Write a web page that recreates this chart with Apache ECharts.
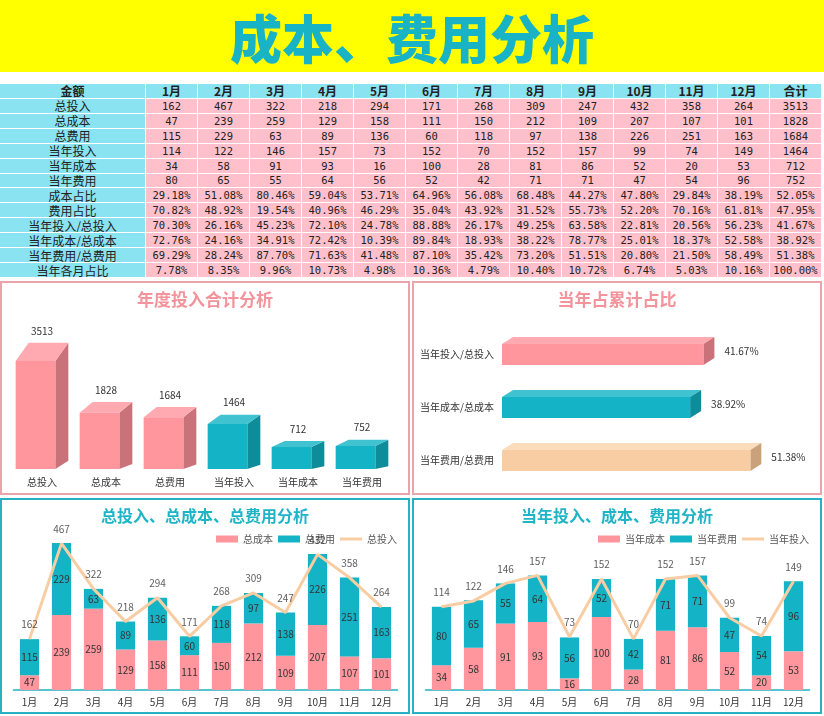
<!DOCTYPE html>
<html>
<head>
<meta charset="utf-8">
<title>成本、费用分析</title>
<script src="https://cdn.jsdelivr.net/npm/echarts@6.0.0/dist/echarts.min.js"></script>
<style>
  html, body { margin: 0; padding: 0; background: #fff; }
  body { width: 824px; height: 716px; position: relative; overflow: hidden;
         font-family: "Noto Sans CJK SC", "Noto Sans", sans-serif; }
  #banner { position: absolute; left: 0; top: 0; width: 824px; height: 72px; background: #ffff00;
            color: #19b3c6; font-size: 52px; font-weight: 900; line-height: 74px; text-align: center; }
  #table { position: absolute; left: 0; top: 84px; width: 821px; height: 193px; display: grid;
           grid-template-columns: 145px repeat(13, 1fr); grid-auto-rows: 1fr; gap: 1px; background: #fff; }
  #table div { display: flex; align-items: center; justify-content: center; overflow: hidden;
               white-space: nowrap; color: #222; }
  #table .hd { background: #8ae3f1; font-weight: bold; font-size: 12px; }
  #table .lb { background: #8ae3f1; font-size: 12px; }
  #table .nm { background: #ffc0cb; font-size: 10.5px; font-family: "DejaVu Sans Mono", monospace; }
  .panel { position: absolute; width: 410px; box-sizing: border-box; border: 2px solid; }
  .panel.pink { border-color: #eba4ac; height: 214px; }
  .panel.teal { border-color: #27b2c3; height: 216px; }
  .chart { position: absolute; left: 0; top: 0; width: 100%; height: 100%; }
</style>
</head>
<body>
<div id="banner">成本、费用分析</div>
<div id="table"></div>
<div class="panel pink" style="left:0;top:281px"><div id="c1" class="chart"></div></div>
<div class="panel pink" style="left:412px;top:281px"><div id="c2" class="chart"></div></div>
<div class="panel teal" style="left:0;top:498px"><div id="c3" class="chart"></div></div>
<div class="panel teal" style="left:412px;top:498px"><div id="c4" class="chart"></div></div>
<script>
var FONT = '"Noto Sans CJK SC", "Noto Sans", sans-serif';

// 表格数据
var months = ['1月', '2月', '3月', '4月', '5月', '6月', '7月', '8月', '9月', '10月', '11月', '12月'];
var totalIn = [162, 467, 322, 218, 294, 171, 268, 309, 247, 432, 358, 264];
var totalCost = [47, 239, 259, 129, 158, 111, 150, 212, 109, 207, 107, 101];
var totalExp = [115, 229, 63, 89, 136, 60, 118, 97, 138, 226, 251, 163];
var yearIn = [114, 122, 146, 157, 73, 152, 70, 152, 157, 99, 74, 149];
var yearCost = [34, 58, 91, 93, 16, 100, 28, 81, 86, 52, 20, 53];
var yearExp = [80, 65, 55, 64, 56, 52, 42, 71, 71, 47, 54, 96];
// 百分比行（含合计列）
var costShare = [29.18, 51.08, 80.46, 59.04, 53.71, 64.96, 56.08, 68.48, 44.27, 47.80, 29.84, 38.19, 52.05];
var expShare = [70.82, 48.92, 19.54, 40.96, 46.29, 35.04, 43.92, 31.52, 55.73, 52.20, 70.16, 61.81, 47.95];
var inRatio = [70.30, 26.16, 45.23, 72.10, 24.78, 88.88, 26.17, 49.25, 63.58, 22.81, 20.56, 56.23, 41.67];
var costRatio = [72.76, 24.16, 34.91, 72.42, 10.39, 89.84, 18.93, 38.22, 78.77, 25.01, 18.37, 52.58, 38.92];
var expRatio = [69.29, 28.24, 87.70, 71.63, 41.48, 87.10, 35.42, 73.20, 51.51, 20.80, 21.50, 58.49, 51.38];
var monthShare = [7.78, 8.35, 9.96, 10.73, 4.98, 10.36, 4.79, 10.40, 10.72, 6.74, 5.03, 10.16, 100.00];

// 年度合计
var summaryCats = ['总投入', '总成本', '总费用', '当年投入', '当年成本', '当年费用'];
var summaryVals = [3513, 1828, 1684, 1464, 712, 752];
// 当年占累计
var ratioCats = ['当年投入/总投入', '当年成本/总成本', '当年费用/总费用'];
var ratioVals = [41.67, 38.92, 51.38];

// 颜色
var PINK = { front: '#ff959d', side: '#c97279', top: '#ffaab0' };
var TEAL = { front: '#15b3c6', side: '#0f8c9a', top: '#40c2d1' };
var PEACH = { front: '#f9cda3', side: '#c9a27c', top: '#fbdcbd' };
var columnPalette = [PINK, PINK, PINK, TEAL, TEAL, TEAL];
var ratioPalette = [PINK, TEAL, PEACH];

// ---- 表格 ----
(function buildTable() {
  var html = '<div class="hd">金额</div>';
  months.concat(['合计']).forEach(function (m) { html += '<div class="hd">' + m + '</div>'; });
  var numRows = [
    ['总投入', totalIn, summaryVals[0]],
    ['总成本', totalCost, summaryVals[1]],
    ['总费用', totalExp, summaryVals[2]],
    ['当年投入', yearIn, summaryVals[3]],
    ['当年成本', yearCost, summaryVals[4]],
    ['当年费用', yearExp, summaryVals[5]]
  ];
  numRows.forEach(function (r) {
    html += '<div class="lb">' + r[0] + '</div>';
    r[1].concat([r[2]]).forEach(function (v) { html += '<div class="nm">' + v + '</div>'; });
  });
  var pctRows = [
    ['成本占比', costShare], ['费用占比', expShare], ['当年投入/总投入', inRatio],
    ['当年成本/总成本', costRatio], ['当年费用/总费用', expRatio], ['当年各月占比', monthShare]
  ];
  pctRows.forEach(function (r) {
    html += '<div class="lb">' + r[0] + '</div>';
    r[1].forEach(function (v) { html += '<div class="nm">' + v.toFixed(2) + '%</div>'; });
  });
  document.getElementById('table').innerHTML = html;
})();

// ---- 年度投入合计分析（立体柱） ----
function renderColumn3d(params, api) {
  var i = api.value(0), v = api.value(1);
  var base = api.coord([i, 0]), top = api.coord([i, v]);
  var band = api.size([1, 0])[0];
  var w = band * 0.62, dx = 13;
  var h = base[1] - top[1];
  var dyT = 3 + h * 0.14, dyB = dyT * 0.45;
  var x0 = base[0] - (w + dx) / 2, x1 = x0 + w;
  var pal = columnPalette[i];
  return {
    type: 'group',
    children: [
      { type: 'polygon', shape: { points: [[x1, top[1]], [x1 + dx, top[1] - dyT], [x1 + dx, base[1] - dyB], [x1, base[1]]] }, style: { fill: pal.side } },
      { type: 'polygon', shape: { points: [[x0, top[1]], [x0 + dx, top[1] - dyT], [x1 + dx, top[1] - dyT], [x1, top[1]]] }, style: { fill: pal.top } },
      { type: 'rect', shape: { x: x0, y: top[1], width: w, height: h }, style: { fill: pal.front } },
      { type: 'text', x: x0 + (w + dx) / 2, y: top[1] - dyT - 12,
        style: { text: String(v), fill: '#333', fontSize: 10, fontFamily: FONT, align: 'center', verticalAlign: 'middle' } }
    ]
  };
}

var c1 = echarts.init(document.getElementById('c1'));
c1.setOption({
  animation: false,
  textStyle: { fontFamily: FONT },
  title: { text: '年度投入合计分析', left: 'center', top: 3,
           textStyle: { color: '#f3939b', fontSize: 17, fontWeight: 'bold', fontFamily: FONT } },
  grid: { left: 8, right: 14, top: 63, bottom: 24 },
  xAxis: { type: 'category', data: summaryCats, axisLine: { show: false }, axisTick: { show: false },
           axisLabel: { fontSize: 10, color: '#333', margin: 8 } },
  yAxis: { type: 'value', min: 0, max: 4000, show: false },
  series: [{ type: 'custom', renderItem: renderColumn3d, encode: { x: 0, y: 1 },
             data: summaryVals.map(function (v, i) { return [i, v]; }) }]
});

// ---- 当年占累计占比（立体条） ----
function renderBar3d(params, api) {
  var i = api.value(1), v = api.value(0);
  var start = api.coord([0, i]), end = api.coord([v, i]);
  var bh = api.size([0, 1])[1] * 0.4;
  var dx = 11, dy = 7;
  var y0 = start[1] - bh / 2, y1 = y0 + bh;
  var xs = start[0], xe = end[0];
  var pal = ratioPalette[i];
  return {
    type: 'group',
    children: [
      { type: 'polygon', shape: { points: [[xs, y0], [xs + dx, y0 - dy], [xe + dx, y0 - dy], [xe, y0]] }, style: { fill: pal.top } },
      { type: 'polygon', shape: { points: [[xe, y0], [xe + dx, y0 - dy], [xe + dx, y1 - dy], [xe, y1]] }, style: { fill: pal.side } },
      { type: 'rect', shape: { x: xs, y: y0, width: xe - xs, height: bh }, style: { fill: pal.front } },
      { type: 'text', x: xe + dx + 10, y: start[1] - dy / 2,
        style: { text: v.toFixed(2) + '%', fill: '#333', fontSize: 10, fontFamily: FONT, align: 'left', verticalAlign: 'middle' } }
    ]
  };
}

var c2 = echarts.init(document.getElementById('c2'));
c2.setOption({
  animation: false,
  textStyle: { fontFamily: FONT },
  title: { text: '当年占累计占比', left: 'center', top: 3,
           textStyle: { color: '#f3939b', fontSize: 17, fontWeight: 'bold', fontFamily: FONT } },
  grid: { left: 88, right: 28, top: 45, bottom: 6 },
  xAxis: { type: 'value', min: 0, max: 60, show: false },
  yAxis: { type: 'category', inverse: true, data: ratioCats, axisLine: { show: false }, axisTick: { show: false },
           axisLabel: { fontSize: 10, color: '#333', margin: 8 } },
  series: [{ type: 'custom', renderItem: renderBar3d, encode: { x: 0, y: 1 },
             data: ratioVals.map(function (v, i) { return [v, i]; }) }]
});

// ---- 堆叠柱 + 折线 ----
function stackOption(title, names, costData, expData, inData, gridTop, yMax) {
  var barLabel = { show: true, position: 'inside', color: '#333', fontSize: 10 };
  return {
    animation: false,
    textStyle: { fontFamily: FONT },
    title: { text: title, left: 'center', top: 3,
             textStyle: { color: '#1fb5c7', fontSize: 16, fontWeight: 'bold', fontFamily: FONT } },
    legend: { right: 6, top: 29, itemWidth: 22, itemHeight: 7, itemGap: 5,
              textStyle: { fontSize: 10, color: '#555' },
              data: [
                { name: names[0], icon: 'rect' },
                { name: names[1], icon: 'rect' },
                { name: names[2], icon: 'path://M0,0 L22,0 L22,3 L0,3 Z' }
              ] },
    grid: { left: 11.5, right: 10.5, top: gridTop, bottom: 22 },
    xAxis: { type: 'category', data: months, axisTick: { show: false },
             axisLine: { lineStyle: { color: '#23b0c2', width: 1.5 } },
             axisLabel: { fontSize: 10, color: '#333', margin: 7 } },
    yAxis: { type: 'value', min: 0, max: yMax, show: false },
    series: [
      { name: names[0], type: 'bar', stack: 'a', barWidth: '60%', data: costData,
        itemStyle: { color: '#ff959d' }, label: barLabel },
      { name: names[1], type: 'bar', stack: 'a', barWidth: '60%', data: expData,
        itemStyle: { color: '#15b3c6' }, label: barLabel },
      { name: names[2], type: 'line', data: inData, symbol: 'none', z: 5,
        lineStyle: { color: '#f9cda3', width: 3 }, itemStyle: { color: '#f9cda3' } },
      { name: names[2] + '标签', type: 'scatter', data: inData, symbolSize: 1, z: 6,
        itemStyle: { color: 'rgba(0,0,0,0)' },
        label: { show: true, position: 'top', distance: 9, color: '#333', fontSize: 10 } }
    ]
  };
}

var c3 = echarts.init(document.getElementById('c3'));
c3.setOption(stackOption('总投入、总成本、总费用分析', ['总成本', '总费用', '总投入'],
  totalCost, totalExp, totalIn, 33, 500));

var c4 = echarts.init(document.getElementById('c4'));
c4.setOption(stackOption('当年投入、成本、费用分析', ['当年成本', '当年费用', '当年投入'],
  yearCost, yearExp, yearIn, 44, 200));
</script>
</body>
</html>
